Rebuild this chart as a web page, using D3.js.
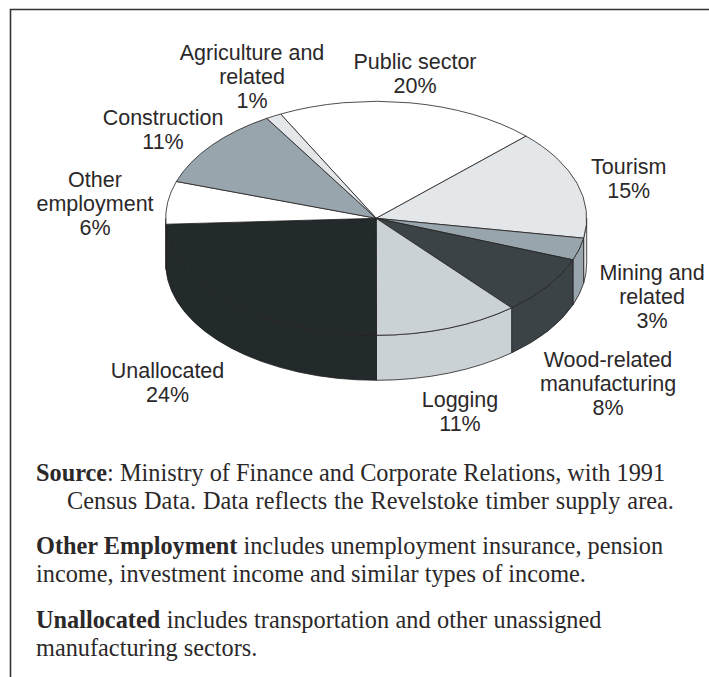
<!DOCTYPE html>
<html lang="en">
<head>
  <meta charset="UTF-8">
  <title>Revelstoke employment income</title>
  <script src="https://d3js.org/d3.v7.min.js"></script>
  <style>
    html, body { margin: 0; background: #fff; }
    svg { display: block; }
    .label { font-family: 'Liberation Sans', Arial, sans-serif; font-size: 21.5px; fill: #2b2829; text-anchor: middle; }
    .note { font-family: 'Liberation Serif', 'Times New Roman', serif; font-size: 24.3px; fill: #2b2829; }
    .note .b { font-weight: bold; }
  </style>
</head>
<body>
  <svg id="chart" width="709" height="677"></svg>
  <script>
    // clockwise from the top edge of Agriculture/Public sector
    var categories = ["Public sector", "Tourism", "Mining and related", "Wood-related manufacturing", "Logging", "Unallocated", "Other employment", "Construction", "Agriculture and related"];
    var labels = ["20%", "15%", "3%", "8%", "11%", "24%", "6%", "11%", "1%"];
    // slice sizes (labels are rounded)
    var shares = [20.1, 15.1, 3.06, 8.1, 11.1, 24.2, 5.9, 11.2, 1.2];
    var fills = ["#ffffff", "#e3e7ea", "#98a5ac", "#3c4347", "#cbd2d5", "#232a2c", "#ffffff", "#98a5ac", "#e3e7ea"];

    var labelLines = [
      ["Public sector"], ["Tourism"], ["Mining and", "related"], ["Wood-related", "manufacturing"], ["Logging"],
      ["Unallocated"], ["Other", "employment"], ["Construction"], ["Agriculture and", "related"]
    ];
    var labelPos = [[415, 69], [628.7, 174], [652, 280], [608, 366.5], [460, 407], [167.5, 377.5], [95, 186.5], [163, 125], [252, 60]];

    var notes = [
      { x: 36, y: 481, ws: 0, parts: [["Source", 1], [": Ministry of Finance and Corporate Relations, with 1991", 0]] },
      { x: 67, y: 509, ws: 0.8, parts: [["Census Data. Data reflects the Revelstoke timber supply area.", 0]] },
      { x: 36, y: 554, ws: 0, parts: [["Other Employment", 1], [" includes unemployment insurance, pension", 0]] },
      { x: 36, y: 582, ws: 0, parts: [["income, investment income and similar types of income.", 0]] },
      { x: 36, y: 628, ws: 0.4, parts: [["Unallocated", 1], [" includes transportation and other unassigned", 0]] },
      { x: 36, y: 656, ws: 0, parts: [["manufacturing sectors.", 0]] }
    ];

    var cx = 376.2, cy = 218.3, rx = 210.5, ry = 117, depth = 45;
    var squash = ry / rx;
    var stroke = "#231f20";

    var svg = d3.select("#chart");

    // frame, open on the right and at the bottom
    svg.append("path")
      .attr("d", "M10.5,677V9.5H709")
      .attr("fill", "none").attr("stroke", "#333").attr("stroke-width", 1.6);

    var start = 333 * Math.PI / 180;
    var pie = d3.pie().sort(null).startAngle(start).endAngle(start + 2 * Math.PI);
    var slices = pie(shares);
    var arc = d3.arc().innerRadius(0).outerRadius(rx);

    var g = svg.append("g").attr("transform", "translate(" + cx + "," + cy + ") scale(1," + squash + ")");

    // d3.path angles start at 3 o'clock, pie angles at 12 o'clock
    function wall(a0, a1) {
      var p = d3.path(), d = depth / squash, off = -Math.PI / 2;
      p.arc(0, 0, rx, a0 + off, a1 + off);
      p.lineTo(rx * Math.cos(a1 + off), rx * Math.sin(a1 + off) + d);
      p.arc(0, d, rx, a1 + off, a0 + off, true);
      p.closePath();
      return p.toString();
    }

    var walls = [];
    slices.forEach(function(s, i) {
      [0, 2 * Math.PI].forEach(function(shift) {
        var a0 = Math.max(s.startAngle - shift, Math.PI / 2);
        var a1 = Math.min(s.endAngle - shift, 3 * Math.PI / 2);
        if (a1 > a0) walls.push({ a0: a0, a1: a1, fill: fills[i] });
      });
    });

    g.selectAll(".wall").data(walls).join("path")
      .attr("class", "wall")
      .attr("d", function(d) { return wall(d.a0, d.a1); })
      .attr("fill", function(d) { return d.fill; })
      .attr("stroke", stroke).attr("stroke-width", 0.8)
      .attr("vector-effect", "non-scaling-stroke");

    g.selectAll(".slice").data(slices).join("path")
      .attr("class", "slice")
      .attr("d", arc)
      .attr("fill", function(d, i) { return fills[i]; })
      .attr("stroke", stroke).attr("stroke-width", 0.8)
      .attr("vector-effect", "non-scaling-stroke");

    categories.forEach(function(c, i) {
      var lines = labelLines[i].concat([labels[i]]);
      var t = svg.append("text").attr("class", "label")
        .attr("transform", "translate(" + labelPos[i][0] + "," + labelPos[i][1] + ")");
      lines.forEach(function(l, j) {
        t.append("tspan").attr("x", 0).attr("y", j * 24).text(l);
      });
    });

    notes.forEach(function(n) {
      var t = svg.append("text").attr("class", "note").attr("x", n.x).attr("y", n.y)
        .style("word-spacing", n.ws + "px");
      n.parts.forEach(function(p) {
        t.append("tspan").attr("class", p[1] ? "b" : null).text(p[0]);
      });
    });
  </script>
</body>
</html>
